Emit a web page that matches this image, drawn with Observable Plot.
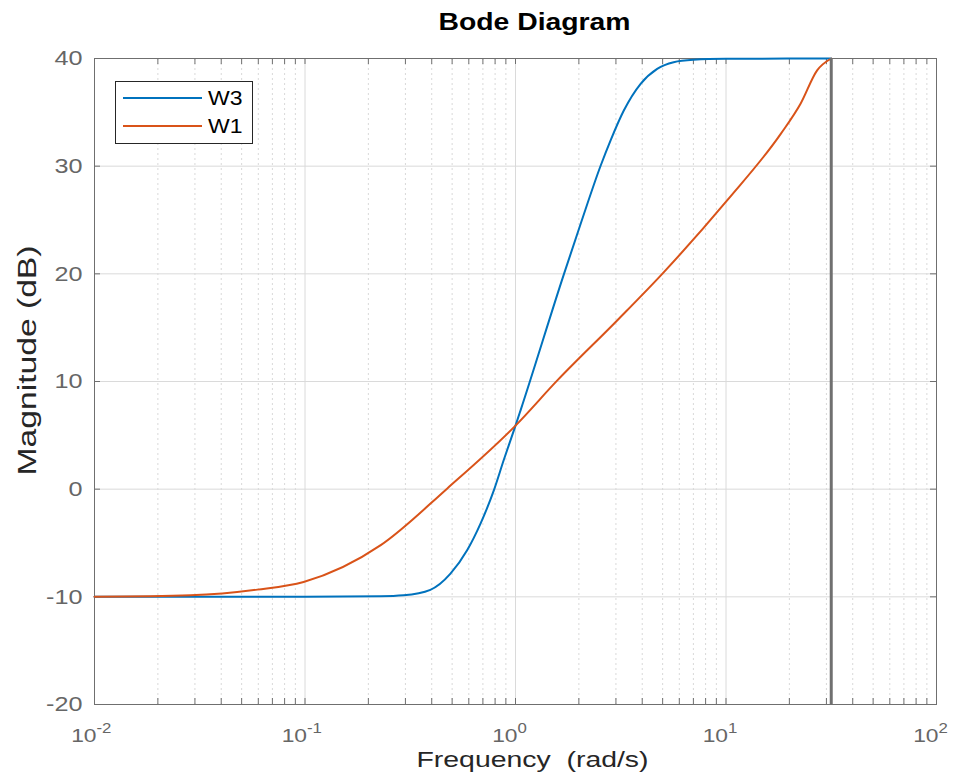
<!DOCTYPE html>
<html>
<head>
<meta charset="utf-8">
<script src="https://cdn.jsdelivr.net/npm/d3@7"></script>
<script src="https://cdn.jsdelivr.net/npm/@observablehq/plot@0.6"></script>
<style>
  body { margin: 0; background: #fff; }
  svg { display: block; }
</style>
</head>
<body>
<div id="chart"></div>
<script>
// ---- data ----
const w3Freq = [0.01, 0.05, 0.1, 0.229, 0.294, 0.394, 0.491, 0.589, 0.682, 0.789, 0.881, 1.0, 1.056, 1.70, 2.04, 2.54, 2.83, 3.27, 3.93, 4.71, 5.64, 7.0, 10, 31.62];
const w3Mag  = [-10, -10, -10, -9.95, -9.86, -9.35, -7.85, -5.68, -3.2, -0.11, 2.75, 5.9, 7.3, 20.0, 24.65, 30.06, 32.4, 35.17, 37.65, 39.04, 39.66, 39.88, 39.97, 40];
const w1Freq = [0.01, 0.0286, 0.0594, 0.0985, 0.229, 0.473, 1.0, 1.58, 3.04, 4.98, 10.1, 18.2, 22.6, 27.1, 31.62];
const w1Mag  = [-10, -9.86, -9.33, -8.62, -5.2, 0.05, 5.9, 10.1, 15.67, 20.0, 26.8, 33.0, 35.8, 38.9, 40];

const seriesNames = ["W3", "W1"];
const seriesColors = ["#0072BD", "#D95319"];

const yTicks = [-20, -10, 0, 10, 20, 30, 40];
const xDecades = [0.01, 0.1, 1, 10, 100];
const xExponents = ["-2", "-1", "0", "1", "2"];
const minorMultipliers = [2, 3, 4, 5, 6, 7, 8, 9];
const cutoffFreq = [31.62];

const titleText = "Bode Diagram";
const xLabelText = "Frequency \u00a0(rad/s)";
const yLabelText = "Magnitude (dB)";

// ---- layout ----
const W = 959, H = 778;
const mT = 58, mR = 23, mB = 74, mL = 94;
const FW = W - mL - mR, FH = H - mT - mB;
const STRETCH = 1.2;

const w3 = w3Freq.map((f, i) => ({f, m: w3Mag[i]}));
const w1 = w1Freq.map((f, i) => ({f, m: w1Mag[i]}));
const minorX = xDecades.slice(0, -1).flatMap(d => minorMultipliers.map(k => k * d));
const allXTicks = [...xDecades, ...minorX];

const tickColor = "#6f6f6f";
const labelGray = "#666666";
const T = 6;

const chart = Plot.plot({
  width: W, height: H,
  marginTop: mT, marginRight: mR, marginBottom: mB, marginLeft: mL,
  x: {type: "log", domain: [0.01, 100], axis: null},
  y: {domain: [-20, 40], axis: null},
  style: {fontFamily: "'Liberation Sans', Arial, sans-serif", background: "#fff", overflow: "visible"},
  marks: [
    Plot.ruleX(minorX, {stroke: "#d9d9d9", strokeDasharray: "2,3"}),
    Plot.ruleX(xDecades.slice(1, -1), {stroke: "#dadada"}),
    Plot.ruleY(yTicks.slice(1, -1), {stroke: "#dadada"}),
    Plot.tickX(allXTicks, {stroke: tickColor, insetTop: FH - T}),
    Plot.tickX(allXTicks, {stroke: tickColor, insetBottom: FH - T}),
    Plot.tickY(yTicks, {stroke: tickColor, insetRight: FW - T}),
    Plot.tickY(yTicks, {stroke: tickColor, insetLeft: FW - T}),
    Plot.frame({stroke: tickColor}),
    Plot.line(w3, {x: "f", y: "m", stroke: seriesColors[0], strokeWidth: 2, curve: "monotone-x"}),
    Plot.line(w1, {x: "f", y: "m", stroke: seriesColors[1], strokeWidth: 2, curve: "monotone-x"}),
    Plot.ruleX(cutoffFreq, {stroke: "#707070", strokeWidth: 3}),
    // text groups, in order: 0 y ticks, 1 x "10", 2 x exponents, 3 title, 4 x label, 5 y label
    Plot.text(yTicks, {y: d => d, text: d => String(d), frameAnchor: "left", textAnchor: "end", dx: -12, fontSize: 21, fill: labelGray}),
    Plot.text(xDecades, {x: d => d, text: () => "10", frameAnchor: "bottom", lineAnchor: "bottom", textAnchor: "end", dx: 2, dy: 37, fontSize: 19, fill: labelGray}),
    Plot.text(xDecades, {x: d => d, text: (d, i) => xExponents[i], frameAnchor: "bottom", lineAnchor: "bottom", textAnchor: "start", dx: 2, dy: 28, fontSize: 14, fill: labelGray}),
    Plot.text([titleText], {frameAnchor: "top", lineAnchor: "bottom", textAnchor: "middle", dy: -29, dx: 19, fontSize: 24, fontWeight: "bold", fill: "#000"}),
    Plot.text([xLabelText], {frameAnchor: "bottom", lineAnchor: "bottom", textAnchor: "middle", dy: 62, dx: 17, fontSize: 22, fill: "#262626"}),
    Plot.text([yLabelText], {frameAnchor: "left", rotate: -90, dx: -67, dy: -21, lineAnchor: "middle", textAnchor: "middle", fontSize: 25, fill: "#262626"})
  ]
});

const svg = d3.select(chart);

// legend
const lg = svg.append("g").attr("class", "legend");
lg.append("rect").attr("x", 115.5).attr("y", 81.5).attr("width", 137).attr("height", 62)
  .attr("fill", "#fff").attr("stroke", "#262626");
seriesNames.forEach((n, i) => {
  lg.append("line").attr("x1", 123).attr("x2", 202).attr("y1", 98 + 28 * i).attr("y2", 98 + 28 * i)
    .attr("stroke", seriesColors[i]).attr("stroke-width", 2);
  lg.append("text").attr("x", 208).attr("y", 104.5 + 28 * i).attr("font-size", 19.5)
    .attr("text-anchor", "start").attr("fill", "#000").text(n);
});

document.getElementById("chart").appendChild(chart);

// widen glyphs horizontally as in the reference rendering
function stretch(node, len) {
  node.setAttribute("textLength", len);
  node.setAttribute("lengthAdjust", "spacingAndGlyphs");
}
const groups = svg.selectAll('g[aria-label="text"]').nodes();
[0, 1, 2].forEach(k => {
  if (!groups[k]) return;
  d3.select(groups[k]).selectAll("text").each(function() {
    stretch(this, this.getComputedTextLength() * STRETCH);
  });
});
lg.selectAll("text").each(function() { stretch(this, this.getComputedTextLength() * 1.18); });
const fixedLengths = {3: 192, 4: 232, 5: 230};
Object.entries(fixedLengths).forEach(([k, len]) => {
  if (!groups[k]) return;
  d3.select(groups[k]).selectAll("text").each(function() { stretch(this, len); });
});
</script>
</body>
</html>
